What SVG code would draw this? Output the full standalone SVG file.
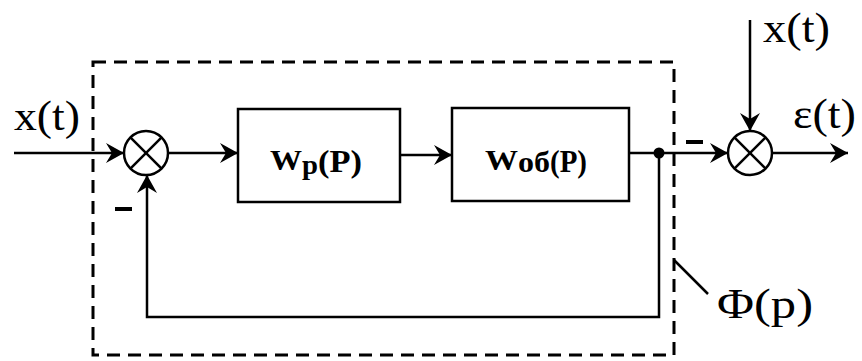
<svg xmlns="http://www.w3.org/2000/svg" width="862" height="361" viewBox="0 0 862 361">
  <defs>
    <marker id="arr" viewBox="0 0 18 20" refX="18" refY="10" markerWidth="18" markerHeight="20" markerUnits="userSpaceOnUse" orient="auto">
      <path d="M0,0 L18,10 L0,20 L6,10 Z" fill="#000"/>
    </marker>
  </defs>
  <style>
    .ln { stroke:#000; stroke-width:2.5; fill:none; }
    .box { stroke:#000; stroke-width:2.5; fill:#fff; }
    .sum { stroke:#000; stroke-width:2.5; fill:#fff; }
    .dash { stroke:#000; stroke-width:3; fill:none; stroke-dasharray:13 8; }
    .lbl { font-size:42px; fill:#000; }
    .blk { font-weight:bold; fill:#000; }
  </style>

  <!-- closed-loop boundary with its leader -->
  <rect class="dash" x="93" y="62" width="581" height="293"/>
  <line class="ln" x1="674" y1="260" x2="708" y2="294" stroke-width="2"/>

  <g id="connectors">
    <line class="ln" x1="14" y1="153" x2="124" y2="153" marker-end="url(#arr)"/>
    <line class="ln" x1="168" y1="153" x2="238" y2="153" marker-end="url(#arr)"/>
    <line class="ln" x1="400" y1="155" x2="452" y2="155" marker-end="url(#arr)"/>
    <line class="ln" x1="629" y1="153" x2="728" y2="153" marker-end="url(#arr)"/>
    <polyline class="ln" points="659,153 659,317 147,317 147,175" marker-end="url(#arr)"/>
    <line class="ln" x1="750" y1="20" x2="750" y2="131" marker-end="url(#arr)"/>
    <line class="ln" x1="772" y1="153" x2="848" y2="153" marker-end="url(#arr)"/>
    <circle cx="659" cy="153" r="5.5" fill="#000"/>
    <rect x="115" y="207" width="17" height="4" fill="#000"/>
    <rect x="686" y="140" width="17" height="4" fill="#000"/>
  </g>

  <g id="sum1">
    <circle class="sum" cx="146" cy="153" r="22"/>
    <line class="ln" x1="130.4" y1="137.4" x2="161.6" y2="168.6"/>
    <line class="ln" x1="161.6" y1="137.4" x2="130.4" y2="168.6"/>
  </g>

  <g id="sum2">
    <circle class="sum" cx="750" cy="153" r="22"/>
    <line class="ln" x1="734.4" y1="137.4" x2="765.6" y2="168.6"/>
    <line class="ln" x1="765.6" y1="137.4" x2="734.4" y2="168.6"/>
  </g>

  <g id="regulator">
    <rect class="box" x="238" y="109" width="162" height="93"/>
    <text class="blk" font-family="Liberation Serif" x="270" y="170" font-size="29" textLength="32" lengthAdjust="spacingAndGlyphs">W</text>
    <text class="blk" font-family="Liberation Serif" x="302" y="174" font-size="27" textLength="16" lengthAdjust="spacingAndGlyphs">p</text>
    <text class="blk" font-family="Liberation Serif" x="318" y="172" font-size="32" textLength="44" lengthAdjust="spacingAndGlyphs">(P)</text>
  </g>

  <g id="plant">
    <rect class="box" x="452" y="108" width="177" height="93"/>
    <text class="blk" font-family="Liberation Serif" x="485" y="170" font-size="29" textLength="33" lengthAdjust="spacingAndGlyphs">W</text>
    <text class="blk" font-family="Liberation Serif" x="518" y="172" font-size="29" textLength="32" lengthAdjust="spacingAndGlyphs">об</text>
    <text class="blk" font-family="Liberation Serif" x="550" y="172" font-size="32" textLength="37" lengthAdjust="spacingAndGlyphs">(P)</text>
  </g>

  <g id="labels">
    <text class="lbl" font-family="Liberation Serif" x="14" y="130" textLength="66" lengthAdjust="spacingAndGlyphs">x(t)</text>
    <text class="lbl" font-family="Liberation Serif" x="763" y="42" textLength="67" lengthAdjust="spacingAndGlyphs">x(t)</text>
    <text class="lbl" font-family="Liberation Serif" x="793" y="128" textLength="63" lengthAdjust="spacingAndGlyphs">ε(t)</text>
    <text class="lbl" font-family="Liberation Serif" x="717" y="318" textLength="96" lengthAdjust="spacingAndGlyphs">Φ(p)</text>
  </g>
</svg>
